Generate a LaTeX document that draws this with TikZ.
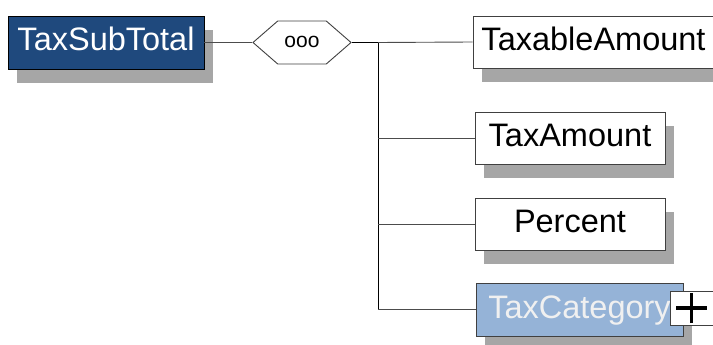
\documentclass[tikz,border=0pt]{standalone}
\usepackage{fontspec}
\setmainfont{Liberation Sans}
\usetikzlibrary{shapes.symbols, shadows, positioning}
\definecolor{darkblue}{RGB}{31,73,125}
\definecolor{lightblue}{RGB}{149,179,215}
\definecolor{shadowgray}{RGB}{166,166,166}

\begin{document}
\begin{tikzpicture}[
  x=1pt, y=-1pt,
  every node/.style={font=\fontsize{32.5}{38}\selectfont, inner sep=0pt, text height=23pt, text depth=6pt},
  elem/.style={rectangle, draw=black!75, line width=0.9pt, fill=white, minimum height=52pt,
    drop shadow={shadow xshift=9pt, shadow yshift=-14pt, fill=shadowgray, opacity=1}},
  conn/.style={draw=black!70, line width=0.9pt},
  busline/.style={draw=black, line width=1pt}
]
\clip (0,0) rectangle (713,345);

% root element and sequence compositor
\node [elem, fill=darkblue, draw=black, text=white, minimum width=196pt, minimum height=53pt] (sub) at (106,42.5) {TaxSubTotal};
\node [signal, signal to=west and east, signal pointer angle=82, draw=black!75, line width=0.9pt, fill=white,
  minimum width=98pt, minimum height=43pt, font=\fontsize{21}{24}\selectfont, text height=10pt, text depth=0pt] (seq) at (302,42.5) {ooo};

% child elements
\node [elem, minimum width=241pt] (taxable) at (593.5,42) {TaxableAmount};
\node [elem, minimum width=190pt] (taxamt) at (570,138) {TaxAmount};
\node [elem, minimum width=190pt] (percent) at (570,224) {Percent};
\node [elem, fill=lightblue, text=white!94!black, minimum width=207pt, minimum height=53pt] (taxcat) at (579.5,309.5) {TaxCategory};
\node [rectangle, draw=black!75, line width=0.9pt, fill=white, minimum width=43pt, minimum height=34pt] (plus) at (691.5,308) {};
\draw [line width=3.5pt] ([xshift=-15.5pt]plus.center) -- ([xshift=15.5pt]plus.center);
\draw [line width=3.5pt] ([yshift=-15pt]plus.center) -- ([yshift=15pt]plus.center);

% connectors
\coordinate (bus) at (378,42.5);
\draw [conn] (sub.east) -- (seq.west);
\draw [busline, line width=1.8pt] (seq.east) -- (bus);
\draw [busline] (bus) -- (bus |- taxcat.west);
\draw [conn] (bus) -- (taxable.west);
\draw [conn] (bus |- taxamt.west) -- (taxamt.west);
\draw [conn] (bus |- percent.west) -- (percent.west);
\draw [conn] (bus |- taxcat.west) -- (taxcat.west);

\end{tikzpicture}
\end{document}
